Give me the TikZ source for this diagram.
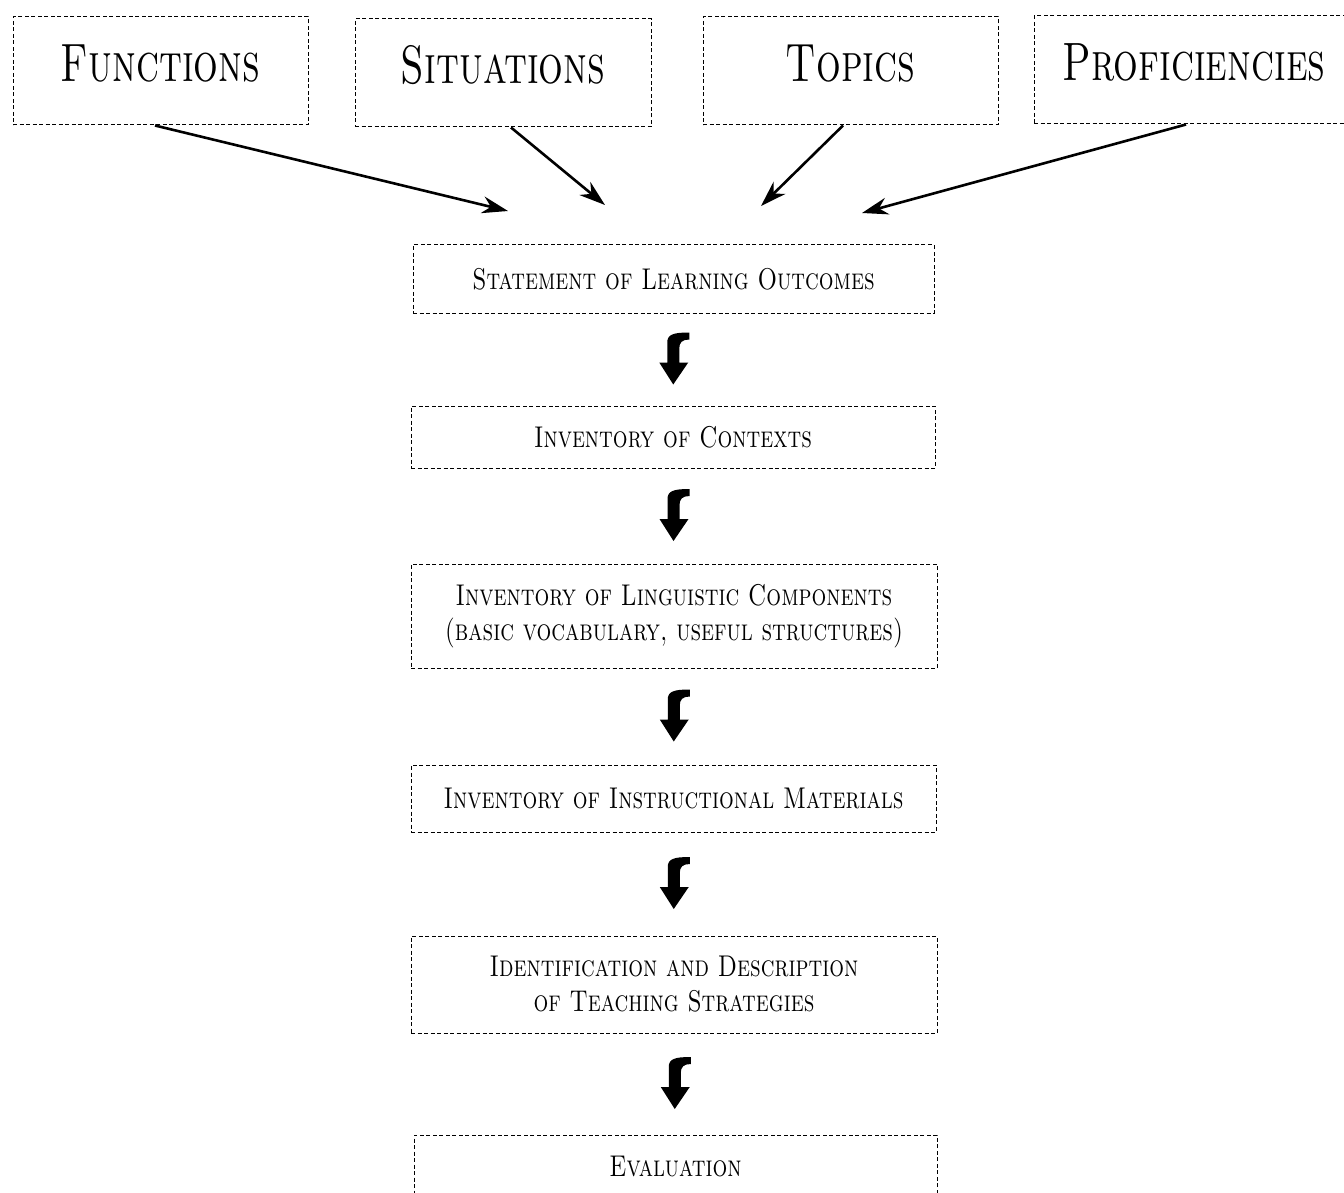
\documentclass[tikz,border=0pt]{standalone}
\usetikzlibrary{arrows.meta,calc}
\newcommand{\narrowtext}[2]{\scalebox{#1}[1]{#2}}
\begin{document}
\begin{tikzpicture}[x=1pt,y=-1pt,
  dbox/.style={draw,line width=1pt,dash pattern=on 4pt off 2.5pt,inner sep=0pt,align=center,font=\fontsize{30}{35}\selectfont\scshape},
  topbox/.style={dbox,font=\fontsize{54}{60}\selectfont\scshape,text height=37pt,text depth=15pt},
  thinarrow/.style={line width=2.6pt,-{Stealth[length=26pt,width=17pt]}},
  blockarrow/.pic={\fill[black] (-6,-22) -- (-6,-42) .. controls (-6,-50) and (0,-52) .. (16,-52) -- (16,-45) .. controls (9,-45) and (6,-42) .. (6,-36) -- (6,-22) -- (15,-22) -- (0,0) -- (-14,-22) -- cycle;}
]
\useasboundingbox (0,0) rectangle (1344,1193);
% top boxes
\node[topbox,minimum width=295pt,minimum height=108pt] (fun) at (160.5,71) {\narrowtext{0.72}{Functions}};
\node[topbox,minimum width=296pt,minimum height=108pt] (sit) at (503,73) {\narrowtext{0.72}{Situations}};
\node[topbox,minimum width=295pt,minimum height=108pt] (top) at (850.5,71) {\narrowtext{0.72}{Topics}};
\node[topbox,minimum width=320pt,minimum height=108pt] (pro) at (1194,70) {\narrowtext{0.72}{Proficiencies}};
% centre boxes
\node[dbox,minimum width=521pt,minimum height=68pt] (slo) at (673.5,279) {\narrowtext{0.775}{Statement of Learning Outcomes}};
\node[dbox,minimum width=524pt,minimum height=62pt] (ioc) at (673,437) {\narrowtext{0.775}{Inventory of Contexts}};
\node[dbox,minimum width=526pt,minimum height=104pt] (ilc) at (674,616) {\narrowtext{0.775}{Inventory of Linguistic Components}\\\narrowtext{0.775}{(basic vocabulary, useful structures)}};
\node[dbox,minimum width=525pt,minimum height=67pt] (iim) at (673.5,798.5) {\narrowtext{0.775}{Inventory of Instructional Materials}};
\node[dbox,minimum width=526pt,minimum height=97pt] (its) at (674,984.5) {\narrowtext{0.775}{Identification and Description}\\\narrowtext{0.775}{of Teaching Strategies}};
\node[dbox,minimum width=523pt,minimum height=62pt] (eva) at (675.5,1166) {\narrowtext{0.775}{Evaluation}};
% converging arrows
\coordinate (t1) at (508,211);
\coordinate (t2) at (605,205);
\coordinate (t3) at (761,206);
\coordinate (t4) at (862,213);
\draw[thinarrow] (fun.south -| 155,0) -- (t1);
\draw[thinarrow] (sit.south -| 511,0) -- (t2);
\draw[thinarrow] (top.south -| 843,0) -- (t3);
\draw[thinarrow] (pro.south -| 1186,0) -- (t4);
% block arrows
\pic at ($(slo.south)!0.5!(ioc.north)$ -| 679,0) [yshift=-25pt] {blockarrow};
\pic at ($(ioc.south)!0.5!(ilc.north)$ -| 678,0) [yshift=-25pt] {blockarrow};
\pic at ($(ilc.south)!0.5!(iim.north)$ -| 679,0) [yshift=-25pt] {blockarrow};
\pic at ($(iim.south)!0.5!(its.north)$ -| 678,0) [yshift=-25pt] {blockarrow};
\pic at ($(its.south)!0.5!(eva.north)$ -| 678,0) [yshift=-25pt] {blockarrow};
\end{tikzpicture}
\end{document}
